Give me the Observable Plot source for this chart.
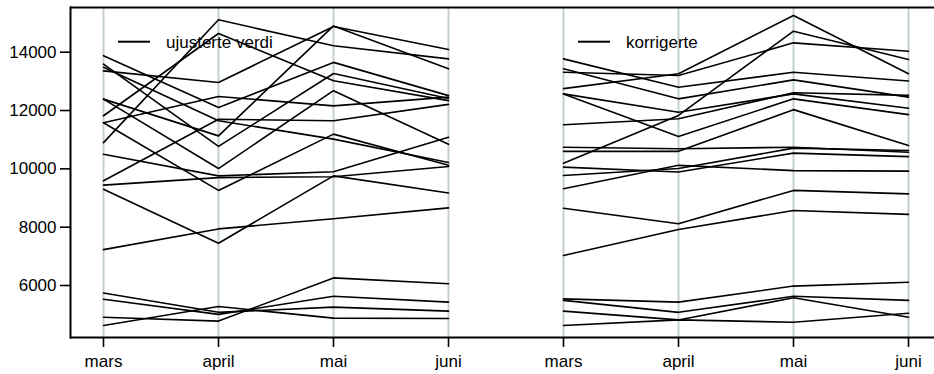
<!DOCTYPE html>
<html>
<head>
<meta charset="utf-8">
<script src="https://cdn.jsdelivr.net/npm/d3@7"></script>
<script src="https://cdn.jsdelivr.net/npm/@observablehq/plot@0.6"></script>
<style>
  body { margin: 0; background: #fff; }
  #chart { width: 934px; height: 374px; }
</style>
</head>
<body>
<div id="chart"></div>
<script>
// Months shown in each panel, and the two panels side by side
const months = ["mars", "april", "mai", "juni"];
const panels = ["ujusterte verdi", "korrigerte"];

// One row per series: values for mars, april, mai, juni
const ujusterte = [
  [13880, 12100, 13650, 12510],
  [13590, 10770, 13270, 12410],
  [13480, 11650, 11020, 10220],
  [13360, 12960, 14880, 14090],
  [12390, 10010, 12680, 10840],
  [12390, 11130, 14900, 13430],
  [11820, 14640, 13020, 12340],
  [11580, 12480, 12160, 12460],
  [11580, 9260, 11190, 10120],
  [10900, 15110, 14220, 13770],
  [10500, 9760, 9900, 11080],
  [9590, 11700, 11650, 12210],
  [9440, 9700, 9730, 10080],
  [9300, 7450, 9760, 9170],
  [7230, 7940, 8290, 8660],
  [4630, 5280, 4880, 4870],
  [4910, 4780, 6260, 6060],
  [5740, 5080, 5260, 5120],
  [5530, 5010, 5630, 5430]
];

const korrigerte = [
  [13770, 12800, 13310, 13010],
  [13430, 12400, 13050, 12460],
  [13310, 13200, 14320, 14030],
  [12750, 13260, 15260, 13260],
  [12570, 11940, 12570, 12080],
  [12570, 11110, 12400, 11860],
  [11510, 11720, 12610, 12520],
  [10740, 10690, 10740, 10570],
  [10600, 10600, 12030, 10800],
  [10190, 11830, 14720, 13750],
  [10060, 9890, 10540, 10420],
  [9770, 10010, 10710, 10630],
  [9320, 10120, 9940, 9920],
  [8650, 8120, 9260, 9140],
  [7030, 7920, 8570, 8440],
  [5540, 5430, 5980, 6110],
  [5490, 5080, 5630, 5490],
  [5120, 4820, 5580, 4910],
  [4630, 4820, 4740, 5050]
];

const yTicks = [6000, 8000, 10000, 12000, 14000];
const yDomain = [4217, 15532];

// Each x position is a panel/month pair
const keys = panels.flatMap(p => months.map(m => `${p}|${m}`));

const rows = [];
[ujusterte, korrigerte].forEach((set, pi) =>
  set.forEach((vals, si) =>
    vals.forEach((v, mi) =>
      rows.push({series: `${pi}-${si}`, key: keys[pi * 4 + mi], value: v}))));

const font = "'Liberation Sans', Arial, Helvetica, sans-serif";

const plot = Plot.plot({
  width: 934,
  height: 374,
  marginLeft: 70,
  marginRight: 0,
  marginTop: 7,
  marginBottom: 37,
  style: {fontFamily: font, fontSize: "17px", background: "#fff", color: "#000"},
  x: {type: "point", domain: keys, range: [102, 908], padding: 0},
  y: {domain: yDomain},
  marks: [
    Plot.ruleX(keys, {stroke: "#c4cfcf", strokeWidth: 2}),
    Plot.line(rows, {x: "key", y: "value", z: "series", stroke: "#000", strokeWidth: 1.6}),
    Plot.ruleY(yDomain, {stroke: "#000", strokeWidth: 2}),
    Plot.frame({anchor: "left", stroke: "#000", strokeWidth: 2}),
    Plot.axisX({
      label: null, tickSize: 10, tickPadding: 7, strokeWidth: 1.6, fontSize: 17,
      tickFormat: k => k.split("|")[1]
    }),
    Plot.axisY({
      label: null, ticks: yTicks, tickSize: 10, tickPadding: 4, strokeWidth: 1.6, fontSize: 17,
      tickFormat: d => String(d)
    })
  ]
});

document.getElementById("chart").appendChild(plot);

// Legend key inside each panel, next to its first month
const xs = plot.scale("x");
const svg = d3.select(plot);
const legend = svg.append("g").attr("class", "panel-legend");
panels.forEach((name, pi) => {
  const x0 = xs.apply(keys[pi * 4]);
  legend.append("line")
    .attr("x1", x0 + 15).attr("x2", x0 + 47)
    .attr("y1", 41.7).attr("y2", 41.7)
    .attr("stroke", "#000").attr("stroke-width", 2);
  legend.append("text")
    .attr("x", x0 + 63).attr("y", 47.6)
    .attr("text-anchor", "start")
    .attr("font-family", font).attr("font-size", 17)
    .attr("fill", "#000")
    .text(name);
});
</script>
</body>
</html>
